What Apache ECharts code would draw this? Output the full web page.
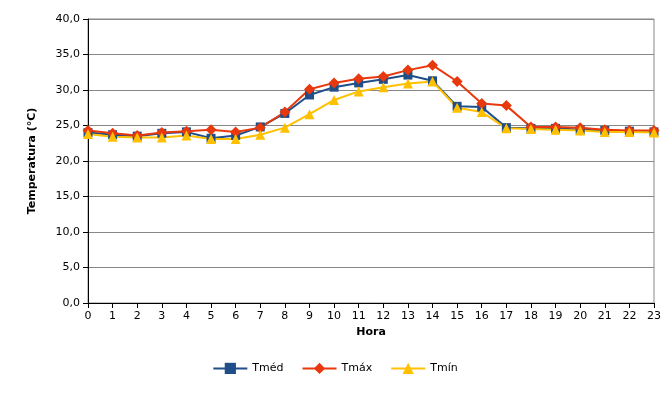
<!DOCTYPE html><html><head><meta charset="utf-8"><script src="https://cdn.jsdelivr.net/npm/echarts@6/dist/echarts.min.js"></script></head><body style="margin:0"><div id="c" style="width:670px;height:401px"></div><script>
const hours=[...Array(24).keys()].map(String);
const tmed=[24.0,23.7,23.5,23.9,24.1,23.2,23.6,24.8,26.7,29.3,30.4,31.0,31.5,32.1,31.3,27.7,27.6,24.7,24.6,24.6,24.4,24.3,24.2,24.1];
const tmax=[24.3,23.9,23.6,24.0,24.2,24.4,24.1,24.7,26.9,30.1,31.0,31.6,31.9,32.8,33.5,31.2,28.1,27.8,24.8,24.8,24.7,24.4,24.3,24.3];
const tmin=[23.8,23.4,23.3,23.3,23.6,23.1,23.1,23.7,24.7,26.6,28.6,29.8,30.4,30.9,31.2,27.5,26.9,24.6,24.5,24.4,24.3,24.1,24.1,24.0];
const f='Verdana, DejaVu Sans, sans-serif';
const ch=echarts.init(document.getElementById('c'));
const s=(n,d,c,sym,sz)=>({name:n,type:'line',data:d,symbol:sym,symbolSize:sz,itemStyle:{color:c},lineStyle:{color:c,width:2}});
ch.setOption({animation:false,textStyle:{fontFamily:f},
grid:{left:88,right:16,top:19,bottom:98,show:true,borderColor:'#888',borderWidth:1},
legend:{bottom:22,left:'center',itemGap:18,itemWidth:34,textStyle:{fontSize:11,color:'#000'},data:['Tméd','Tmáx','Tmín']},
xAxis:{type:'category',data:hours,boundaryGap:false,name:'Hora',nameLocation:'middle',nameGap:22,nameTextStyle:{fontWeight:'bold',fontSize:11,color:'#000'},axisLine:{lineStyle:{color:'#000'}},axisTick:{show:true,alignWithLabel:true},axisLabel:{color:'#000',fontSize:11,interval:0},splitLine:{show:false}},
yAxis:{type:'value',min:0,max:40,interval:5,name:'Temperatura (°C)',nameLocation:'middle',nameGap:50,nameTextStyle:{fontWeight:'bold',fontSize:11,color:'#000'},axisLine:{show:true,lineStyle:{color:'#000'}},axisTick:{show:true},axisLabel:{color:'#000',fontSize:11,formatter:v=>v.toFixed(1).replace('.',',')},splitLine:{lineStyle:{color:'#888'}}},
series:[s('Tméd',tmed,'#1f4e89','rect',9),s('Tmáx',tmax,'#e8380d','diamond',11),s('Tmín',tmin,'#ffc000','triangle',10)]});
</script></body></html>
